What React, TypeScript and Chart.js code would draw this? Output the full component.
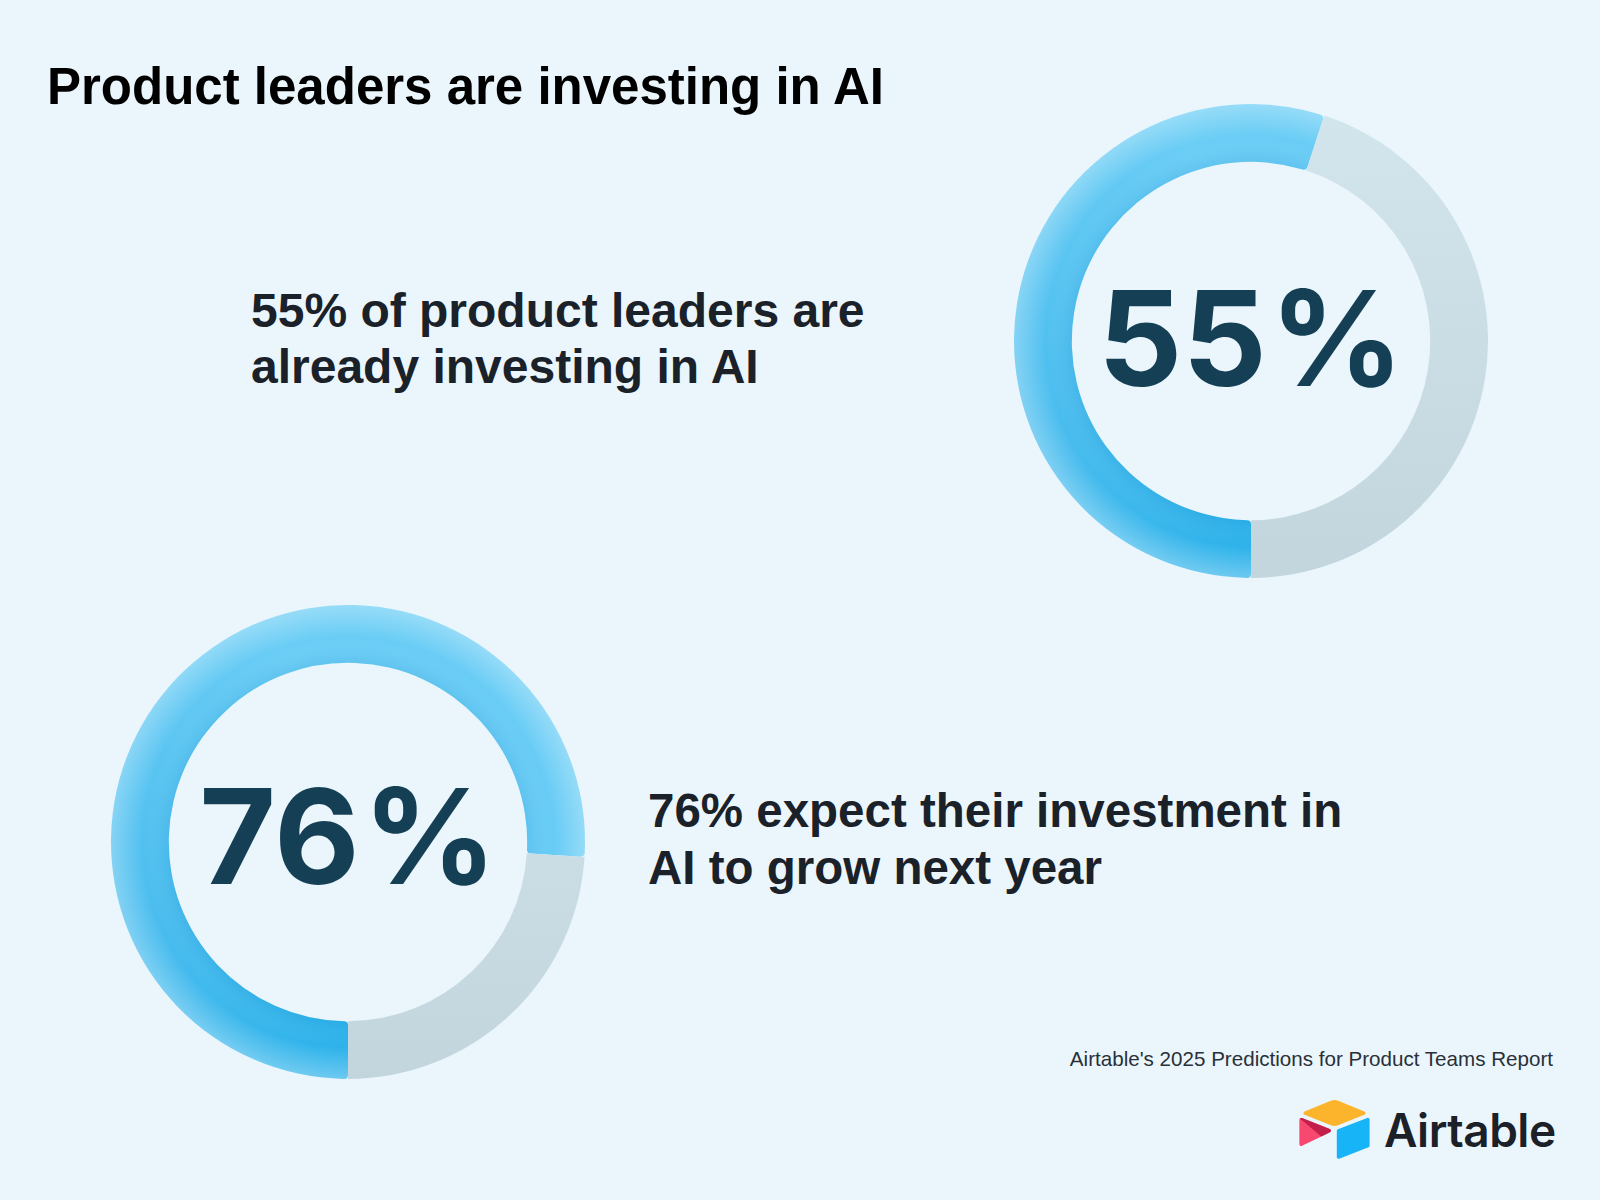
import React, { useEffect, useRef } from 'react';
import { Chart, registerables } from 'chart.js';

Chart.register(...registerables);

// ---- data ----
const TITLE = 'Product leaders are investing in AI';
const segmentLabels = ['Yes', 'Other'];
const investingNowValues = [55, 45];
const expectGrowthValues = [76, 24];
const investingNowText = ['55% of product leaders are', 'already investing in AI'];
const expectGrowthText = ['76% expect their investment in', 'AI to grow next year'];
const SOURCE = "Airtable's 2025 Predictions for Product Teams Report";
const BRAND = 'Airtable';

// ---- styles ----
const BG = '#eaf6fc';
const TEXT_DARK = '#1b2129';
const NUM_COLOR = '#143f55';

const centerTextPlugin = {
  id: 'centerText',
  afterDraw(chart: any, _args: any, opts: any) {
    const arc = chart.getDatasetMeta(0).data[0];
    if (!arc) return;
    const { x, y } = arc.getProps(['x', 'y'], true);
    const ctx = chart.ctx;
    ctx.save();
    ctx.font = `700 ${opts.size}px Inter, "Liberation Sans", sans-serif`;
    ctx.fillStyle = opts.color;
    ctx.textBaseline = 'alphabetic';
    ctx.textAlign = 'left';
    const num = String(chart.data.datasets[0].data[0]);
    const pct = '%';
    const w1 = ctx.measureText(num).width;
    const w2 = ctx.measureText(pct).width;
    const total = w1 + opts.gap + w2;
    const sx = x - total / 2;
    ctx.fillText(num, sx, y + opts.dy);
    ctx.fillText(pct, sx + w1 + opts.gap, y + opts.dy);
    ctx.restore();
  },
};

const shinePlugin = {
  id: 'shine',
  afterDatasetsDraw(chart: any) {
    const arc = chart.getDatasetMeta(0).data[0];
    if (!arc) return;
    const { x, y, startAngle, endAngle, innerRadius, outerRadius } = arc.getProps(
      ['x', 'y', 'startAngle', 'endAngle', 'innerRadius', 'outerRadius'],
      true
    );
    const ctx = chart.ctx;
    ctx.save();
    ctx.globalCompositeOperation = 'source-atop';
    const g = ctx.createRadialGradient(x, y, innerRadius, x, y, outerRadius);
    g.addColorStop(0, 'rgba(10,120,190,0.10)');
    g.addColorStop(0.45, 'rgba(255,255,255,0)');
    g.addColorStop(1, 'rgba(255,255,255,0.30)');
    ctx.beginPath();
    ctx.moveTo(x, y);
    ctx.arc(x, y, outerRadius + 2, startAngle, endAngle);
    ctx.closePath();
    ctx.fillStyle = g;
    ctx.fill();
    ctx.restore();
  },
};

function Donut({ values, left, top, dy }: { values: number[]; left: number; top: number; dy: number }) {
  const ref = useRef<HTMLCanvasElement | null>(null);
  useEffect(() => {
    if (!ref.current) return;
    const chart = new Chart(ref.current, {
      type: 'doughnut',
      data: {
        labels: segmentLabels,
        datasets: [
          {
            data: values,
            borderWidth: 0,
            hoverOffset: 0,
            offset: 0,
            borderRadius: (c: any) => (c.dataIndex === 0 ? 4 : 0),
            backgroundColor: (c: any) => {
              const chart = c.chart;
              const area = chart.chartArea;
              if (!area) return c.dataIndex === 0 ? '#4cc0ef' : '#c9dde5';
              const cx = (area.left + area.right) / 2;
              const cy = (area.top + area.bottom) / 2;
              const ctx = chart.ctx;
              if (c.dataIndex === 0) {
                const g = ctx.createConicGradient(Math.PI / 2, cx, cy);
                g.addColorStop(0, '#2cb2ea');
                g.addColorStop(0.18, '#48bcee');
                g.addColorStop(0.45, '#6acdf5');
                g.addColorStop(0.8, '#66cbf5');
                g.addColorStop(1, '#2cb2ea');
                return g;
              }
              const g = ctx.createLinearGradient(0, area.top, 0, area.bottom);
              g.addColorStop(0, '#d3e6ed');
              g.addColorStop(1, '#c2d5dd');
              return g;
            },
          } as any,
        ],
      },
      options: {
        responsive: false,
        animation: false,
        events: [],
        layout: { padding: 0 },
        rotation: 180,
        circumference: 360,
        cutout: '75.6%',
        radius: 237,
        plugins: {
          legend: { display: false },
          tooltip: { enabled: false },
          centerText: { size: 132, color: NUM_COLOR, gap: 3, dy },
        } as any,
      } as any,
      plugins: [shinePlugin, centerTextPlugin],
    });
    return () => chart.destroy();
  }, []);
  return (
    <canvas
      ref={ref}
      width={500}
      height={500}
      style={{ position: 'absolute', left, top, width: 500, height: 500 }}
    />
  );
}

function Logo() {
  return (
    <svg
      width={71}
      height={59}
      viewBox="11 10.5 177 148.6"
      style={{ position: 'absolute', left: 1299, top: 1100 }}
    >
      <path
        d="M90.0389 12.3675L24.0799 39.6605C20.4119 41.1785 20.4499 46.3885 24.1409 47.8515L90.3759 74.1175C96.1959 76.4255 102.6769 76.4255 108.4959 74.1175L174.7319 47.8515C178.4219 46.3885 178.4609 41.1785 174.7919 39.6605L108.8339 12.3675C102.8159 9.8775 96.0559 9.8775 90.0389 12.3675Z"
        fill="#fcb42c"
      />
      <path
        d="M105.3122 88.4608V154.0768C105.3122 157.1978 108.4592 159.3348 111.3602 158.1848L185.1662 129.5368C186.8512 128.8688 187.9562 127.2408 187.9562 125.4288V59.8128C187.9562 56.6918 184.8092 54.5548 181.9082 55.7048L108.1022 84.3528C106.4182 85.0208 105.3122 86.6488 105.3122 88.4608Z"
        fill="#18b4f8"
      />
      <path
        d="M88.0781 91.8464L66.1741 102.4224L63.9501 103.4974L17.7121 125.6524C14.7811 127.0664 11.0401 124.9304 11.0401 121.6744V60.0884C11.0401 58.9104 11.6441 57.8934 12.4541 57.1274C12.7921 56.7884 13.1751 56.5094 13.5731 56.2884C14.6781 55.6254 16.2541 55.4484 17.5941 55.9784L87.7101 83.7594C91.2741 85.1734 91.5541 90.1674 88.0781 91.8464Z"
        fill="#f8486f"
      />
      <path
        d="M88.0781 91.8464L66.1741 102.4224L12.4541 57.1274C12.7921 56.7884 13.1751 56.5094 13.5731 56.2884C14.6781 55.6254 16.2541 55.4484 17.5941 55.9784L87.7101 83.7594C91.2741 85.1734 91.5541 90.1674 88.0781 91.8464Z"
        fill="#c21f4a"
      />
    </svg>
  );
}

export default function App() {
  useEffect(() => {
    document.body.style.margin = '0';
  }, []);
  const textFont = '"Liberation Sans", Arial, Helvetica, sans-serif';
  return (
    <div
      style={{
        position: 'relative',
        width: 1600,
        height: 1200,
        overflow: 'hidden',
        background: BG,
        fontFamily: textFont,
      }}
    >
      <div
        style={{
          position: 'absolute',
          left: 47,
          top: 61,
          fontSize: 51,
          lineHeight: '51px',
          fontWeight: 700,
          color: '#000',
          whiteSpace: 'nowrap',
        }}
      >
        {TITLE}
      </div>

      <div
        style={{
          position: 'absolute',
          left: 251,
          top: 283,
          fontSize: 48,
          lineHeight: '55.5px',
          fontWeight: 700,
          color: TEXT_DARK,
          whiteSpace: 'nowrap',
        }}
      >
        {investingNowText.map((t, i) => (
          <div key={i}>{t}</div>
        ))}
      </div>

      <div
        style={{
          position: 'absolute',
          left: 648,
          top: 783,
          fontSize: 47.5,
          lineHeight: '56.5px',
          fontWeight: 700,
          color: TEXT_DARK,
          whiteSpace: 'nowrap',
        }}
      >
        {expectGrowthText.map((t, i) => (
          <div key={i}>{t}</div>
        ))}
      </div>

      <Donut values={investingNowValues} left={1000.5} top={90.5} dy={44.5} />
      <Donut values={expectGrowthValues} left={98.3} top={591.5} dy={42} />

      <div
        style={{
          position: 'absolute',
          right: 47,
          top: 1049,
          fontSize: 20.6,
          lineHeight: '20px',
          color: '#2a3038',
          whiteSpace: 'nowrap',
        }}
      >
        {SOURCE}
      </div>

      <Logo />
      <div
        style={{
          position: 'absolute',
          left: 1384,
          top: 1107,
          fontSize: 46,
          lineHeight: '46px',
          fontWeight: 600,
          fontFamily: 'Inter, "Noto Sans", sans-serif',
          color: '#1b2029',
          letterSpacing: '-0.5px',
          whiteSpace: 'nowrap',
        }}
      >
        {BRAND}
      </div>
    </div>
  );
}
